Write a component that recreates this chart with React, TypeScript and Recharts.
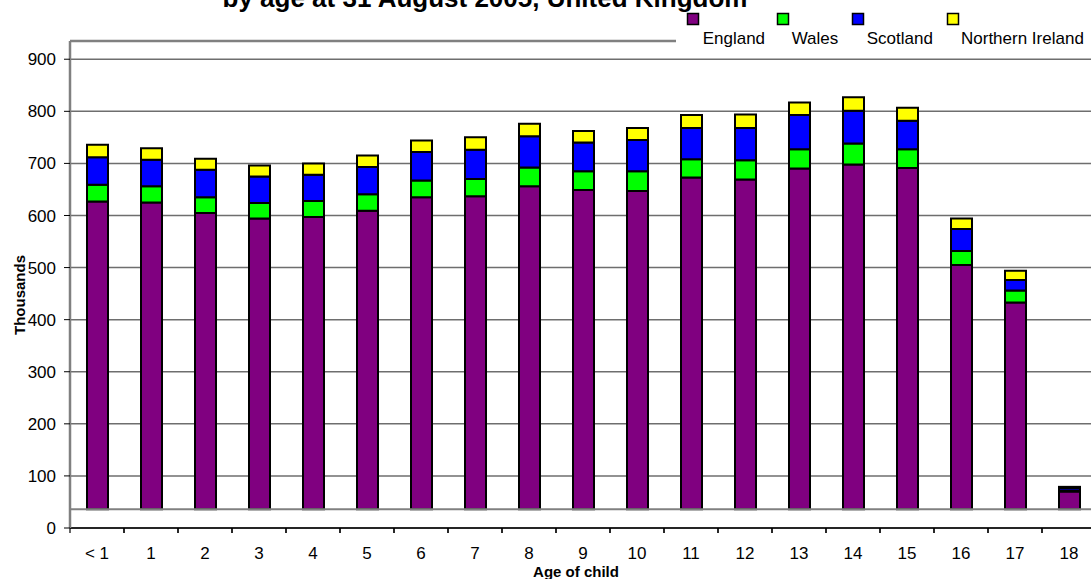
import React from "react";
import { BarChart, Bar, XAxis, YAxis, CartesianGrid, ReferenceLine } from "recharts";

const FONT = '"Liberation Sans", Arial, Helvetica, sans-serif';

// thousands of children, by age at 31 August 2005
const AGES = ["< 1", "1", "2", "3", "4", "5", "6", "7", "8", "9", "10", "11", "12", "13", "14", "15", "16", "17", "18"];
const ENGLAND  = [591, 589, 569, 558, 561, 573, 599, 601, 620, 613, 611, 637, 633, 654, 662, 655, 469, 397, 34];
const WALES    = [32, 31, 30, 30, 31, 32, 32, 33, 36, 36, 38, 35, 37, 37, 40, 36, 27, 23, 2];
const SCOTLAND = [53, 51, 53, 51, 50, 52, 55, 56, 60, 55, 60, 60, 62, 66, 63, 55, 42, 20, 5];
const N_IRELAND = [24, 22, 21, 21, 22, 22, 22, 24, 24, 22, 23, 25, 26, 24, 26, 25, 20, 18, 2];
const Y_TICKS = [0, 100, 200, 300, 400, 500, 600, 700, 800, 900];

const SERIES = [
  { key: "england", name: "England", color: "#800080" },
  { key: "wales", name: "Wales", color: "#00FF00" },
  { key: "scotland", name: "Scotland", color: "#0000FF" },
  { key: "ni", name: "Northern Ireland", color: "#FFFF00" },
];

// Excel draws the columns on a raised floor; the bar axis is shifted by this much
const FLOOR = 36;
const TOP = 935;

const CHART_W = 1096;
const AXIS_W = 70;
const BAND = (CHART_W - AXIS_W) / AGES.length;

const rows = AGES.map((age, i) => ({
  age,
  england: ENGLAND[i],
  wales: WALES[i],
  scotland: SCOTLAND[i],
  ni: N_IRELAND[i],
}));

const TICK = { fontSize: 17, fill: "#000", fontFamily: FONT };
const LEGEND_POS = [
  { mx: 687.5, tx: 702.7 },
  { mx: 777.5, tx: 791.7 },
  { mx: 852.5, tx: 866.7 },
  { mx: 947.5, tx: 961 },
];

// category label plus an Excel-style tick mark on the left edge of its band
function AgeTick({ x, y, payload }: { x?: number; y?: number; payload?: { value: string } }) {
  if (x == null || y == null) return null;
  const left = x - BAND / 2;
  return (
    <g>
      <line x1={left} x2={left} y1={y} y2={y + 5} stroke="#000" strokeWidth={1.2} />
      <line x1={left + BAND} x2={left + BAND} y1={y} y2={y + 5} stroke="#000" strokeWidth={1.2} />
      <text x={x} y={y + 31} textAnchor="middle" {...TICK}>{payload?.value}</text>
    </g>
  );
}

export default function App() {
  return (
    <div style={{ position: "fixed", left: 0, top: 0, width: 1091, height: 579, overflow: "hidden", background: "#fff" }}>
      <BarChart width={CHART_W} height={579} data={rows} barSize={21}
        margin={{ top: 41, right: 0, bottom: 0, left: 0 }}>
        <CartesianGrid xAxisId="cat" yAxisId="left" vertical={false} stroke="#6e6e6e" strokeWidth={1.5} />
        <XAxis xAxisId="cat" dataKey="age" height={51} interval={0}
          axisLine={{ stroke: "#000", strokeWidth: 1.5 }} tickLine={false}
          tickSize={0} tickMargin={0} tick={<AgeTick />} />
        <YAxis yAxisId="left" orientation="left" domain={[0, TOP]} ticks={Y_TICKS} allowDataOverflow width={AXIS_W} interval={0}
          tick={TICK} tickSize={6} tickMargin={8}
          axisLine={{ stroke: "#808080", strokeWidth: 2.5 }} tickLine={{ stroke: "#000" }} />
        <YAxis yAxisId="bars" orientation="right" hide width={0} domain={[-FLOOR, TOP - FLOOR]} allowDataOverflow />
        <ReferenceLine xAxisId="cat" yAxisId="left" y={TOP} stroke="#808080" strokeWidth={2.5} />
        <ReferenceLine xAxisId="cat" yAxisId="bars" y={0} stroke="#808080" strokeWidth={2} />
        {SERIES.map((s) => (
          <Bar key={s.key} xAxisId="cat" yAxisId="bars" dataKey={s.key} name={s.name} stackId="uk"
            fill={s.color} stroke="#000" strokeWidth={2} isAnimationActive={false} />
        ))}
      </BarChart>

      <svg width={1091} height={579} style={{ position: "absolute", left: 0, top: 0, pointerEvents: "none" }}>
        <rect x={676} y={12} width={420} height={38} fill="#fff" />
        <text x={485} y={7} textAnchor="middle" fontFamily={FONT} fontWeight="bold" fontSize={26}>
          by age at 31 August 2005, United Kingdom
        </text>
        {SERIES.map((s, i) => (
          <g key={s.key}>
            <rect x={LEGEND_POS[i].mx} y={13.5} width={11} height={11} fill={s.color} stroke="#000" strokeWidth={1.5} />
            <text x={LEGEND_POS[i].tx} y={44.3} fontFamily={FONT} fontSize={17}>{s.name}</text>
          </g>
        ))}
        <text x={25.4} y={295} transform="rotate(-90 25.4 295)" textAnchor="middle"
          fontFamily={FONT} fontWeight="bold" fontSize={15}>Thousands</text>
        <text x={576} y={577} textAnchor="middle" fontFamily={FONT} fontWeight="bold" fontSize={15}>Age of child</text>
      </svg>
    </div>
  );
}
